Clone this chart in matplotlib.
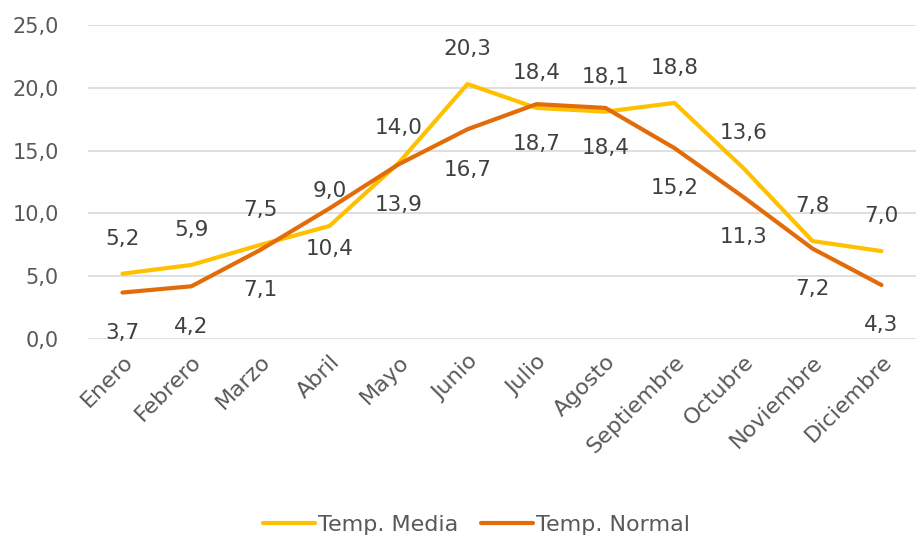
import matplotlib
matplotlib.use("Agg")
import matplotlib.pyplot as plt

months = ["Enero", "Febrero", "Marzo", "Abril", "Mayo", "Junio", "Julio",
          "Agosto", "Septiembre", "Octubre", "Noviembre", "Diciembre"]
media = [5.2, 5.9, 7.5, 9.0, 14.0, 20.3, 18.4, 18.1, 18.8, 13.6, 7.8, 7.0]
normal = [3.7, 4.2, 7.1, 10.4, 13.9, 16.7, 18.7, 18.4, 15.2, 11.3, 7.2, 4.3]
yticks = [0, 5, 10, 15, 20, 25]

text_color = "#595959"
plt.rcParams["font.family"] = ["DejaVu Sans"]

fig = plt.figure(figsize=(9.16, 5.39), dpi=100)
ax = fig.add_axes([0.096, 0.371, 0.904, 0.5826])

x = list(range(len(months)))
ax.plot(x, media, color="#FFC000", lw=3, label="Temp. Media",
        solid_capstyle="round", solid_joinstyle="round", zorder=3)
ax.plot(x, normal, color="#E36C0A", lw=3, label="Temp. Normal",
        solid_capstyle="round", solid_joinstyle="round", zorder=3)

# data labels: media above, normal below
for i in x:
    ax.annotate(f"{media[i]:.1f}".replace(".", ","), (i, media[i]),
                xytext=(0, 25), textcoords="offset points",
                ha="center", va="center", fontsize=15.5, color="#404040")
    ax.annotate(f"{normal[i]:.1f}".replace(".", ","), (i, normal[i]),
                xytext=(0, -29), textcoords="offset points",
                ha="center", va="center", fontsize=15.5, color="#404040")

ax.set_xlim(-0.5, len(months) - 0.5)
ax.set_ylim(0, 25)
ax.set_yticks(yticks)
ax.set_yticklabels([f"{v:.1f}".replace(".", ",") for v in yticks],
                   fontsize=15, color=text_color)
ax.set_xticks(x)
ax.set_xticklabels(months, rotation=45, ha="right", rotation_mode="anchor",
                   fontsize=16, color=text_color)
ax.tick_params(axis="y", length=0, pad=21)
ax.tick_params(axis="x", length=0, pad=9)
ax.grid(axis="y", color="#D9D9D9", lw=1.2)
ax.set_axisbelow(True)
for s in ax.spines.values():
    s.set_visible(False)

fig.legend(loc="lower center", bbox_to_anchor=(0.52, -0.03), ncol=2,
           frameon=False, fontsize=16, labelcolor=text_color,
           handlelength=2.35, handletextpad=0.15, columnspacing=1.0)

fig.savefig("out.png", dpi=100)
